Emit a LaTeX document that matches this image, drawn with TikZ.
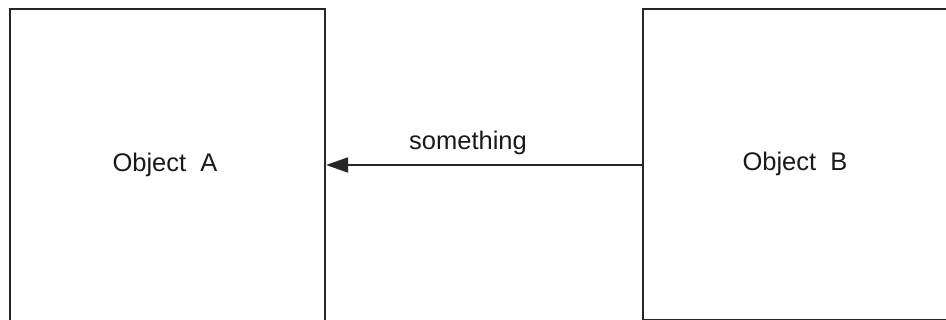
\documentclass[tikz,border=0pt]{standalone}
\usepackage{fontspec}
\setmainfont{Liberation Sans}
\usetikzlibrary{arrows.meta}
\begin{document}
\begin{tikzpicture}[x=1pt,y=-1pt,
  objbox/.style={draw=black!85, line width=2.2pt, rectangle, inner sep=0pt},
  lbltext/.style={font=\fontsize{25.5}{30}\selectfont, text=black!90, inner sep=0pt},
  link/.style={draw=black!85, line width=2pt, -{Triangle[length=22pt,width=15pt]}}]
  \useasboundingbox (0,0) rectangle (946,320);
  \clip (0,0) rectangle (946,320);
  \node[objbox, minimum width=315pt, minimum height=316pt] (A) at (167.5,167) {};
  \node[objbox, minimum width=310pt, minimum height=311pt] (B) at (798,164.5) {};
  \node[lbltext] (ta) at (165,165) {Object\ \ A};
  \node[lbltext] (tb) at (795,164) {Object\ \ B};
  \draw[link] (B.west |- 0,165) -- (A.east |- 0,165);
  \node[lbltext] (lbl) at (468,143) {something};
\end{tikzpicture}
\end{document}
